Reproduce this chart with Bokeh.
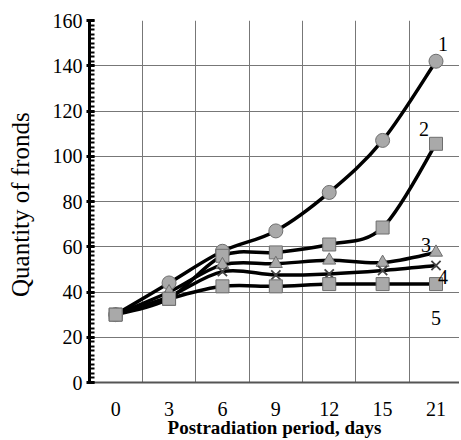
import numpy as np
from bokeh.plotting import figure
from bokeh.models import Range1d, FixedTicker, ColumnDataSource
from bokeh.embed import file_html
from bokeh.resources import INLINE

days = ["0", "3", "6", "9", "12", "15", "21"]
s1 = [30, 44, 58, 67, 84, 107, 142]
s2 = [30, 37, 56, 57.5, 61, 68.5, 105.5]
s3 = [30, 40, 52, 52.5, 54, 53, 57.5]
s4 = [30, 38, 49, 47.5, 48, 49.5, 51.7]
s5 = [30, 37, 42.5, 42.5, 43.5, 43.5, 43.5]
series = [s1, s2, s3, s4, s5]
markers = ["circle", "square", "triangle", "x", "square"]
names = ["1", "2", "3", "4", "5"]
label_off = [(7, -17), (-12, -15), (-10, -7), (7, 11), (0, 34)]

FONT = "Liberation Serif"
xs = np.arange(len(days), dtype=float)

p = figure(frame_width=370, frame_height=362, output_backend="svg", toolbar_location=None,
           x_range=Range1d(-0.49, 6.44), y_range=Range1d(0, 160),
           min_border_left=89, min_border_right=0, min_border_top=20, min_border_bottom=40)
p.outline_line_color = None
p.background_fill_color = "white"

# axes
p.xaxis.ticker = FixedTicker(ticks=list(xs))
p.xaxis.major_label_overrides = {float(i): d for i, d in enumerate(days)}
p.xaxis.major_tick_in = 0
p.xaxis.major_tick_out = 0
p.xaxis.minor_tick_in = 0
p.xaxis.minor_tick_out = 0
p.xaxis.axis_line_color = "#555555"
p.xaxis.axis_line_width = 2
p.xaxis.major_label_standoff = 19
p.xaxis.major_label_text_font = FONT
p.xaxis.major_label_text_font_size = "20px"
p.xaxis.major_label_text_color = "black"
p.xaxis.axis_label = "Postradiation period, days"
p.xaxis.axis_label_text_font = FONT
p.xaxis.axis_label_text_font_style = "bold"
p.xaxis.axis_label_text_font_size = "19px"
p.xaxis.axis_label_standoff = -2
p.xaxis.axis_label_text_color = "black"

p.yaxis.ticker = FixedTicker(ticks=list(range(0, 161, 20)), minor_ticks=list(range(0, 161, 2)))
p.yaxis.axis_line_color = "black"
p.yaxis.axis_line_width = 3
p.yaxis.major_tick_in = 5
p.yaxis.major_tick_out = 3
p.yaxis.major_tick_line_width = 3
p.yaxis.minor_tick_in = 5
p.yaxis.minor_tick_out = 0
p.yaxis.minor_tick_line_width = 2
p.yaxis.major_label_standoff = 4
p.yaxis.major_label_text_font = FONT
p.yaxis.major_label_text_font_size = "20px"
p.yaxis.major_label_text_color = "black"
p.yaxis.axis_label = "Quantity of  fronds"
p.yaxis.axis_label_text_font = FONT
p.yaxis.axis_label_text_font_style = "normal"
p.yaxis.axis_label_text_font_size = "25px"
p.yaxis.axis_label_standoff = 16
p.yaxis.axis_label_text_color = "black"

# grid
p.xgrid.ticker = FixedTicker(ticks=list(xs[:-1] + 0.5))
p.xgrid.grid_line_color = "#777777"
p.xgrid.grid_line_width = 1
p.ygrid.ticker = FixedTicker(ticks=list(range(20, 161, 20)))
p.ygrid.grid_line_color = "#777777"
p.ygrid.grid_line_width = 1


def smooth_segments(x, y, t=1.0 / 6.0):
    x = np.asarray(x, float)
    y = np.asarray(y, float)
    n = len(x)
    x0, y0, x1, y1, cx0, cy0, cx1, cy1 = ([] for _ in range(8))
    for i in range(n - 1):
        xp, yp = (x[i - 1], y[i - 1]) if i > 0 else (x[i], y[i])
        xn, yn = (x[i + 2], y[i + 2]) if i + 2 < n else (x[i + 1], y[i + 1])
        x0.append(x[i]); y0.append(y[i]); x1.append(x[i + 1]); y1.append(y[i + 1])
        cx0.append(x[i] + (x[i + 1] - xp) * t); cy0.append(y[i] + (y[i + 1] - yp) * t)
        cx1.append(x[i + 1] - (xn - x[i]) * t); cy1.append(y[i + 1] - (yn - y[i]) * t)
    return dict(x0=x0, y0=y0, x1=x1, y1=y1, cx0=cx0, cy0=cy0, cx1=cx1, cy1=cy1)


for ser in series:
    p.bezier(source=ColumnDataSource(smooth_segments(xs, ser)), x0="x0", y0="y0",
             x1="x1", y1="y1", cx0="cx0", cy0="cy0", cx1="cx1", cy1="cy1",
             line_color="black", line_width=3.5)

for ser, mk in zip(series, markers):
    if mk == "x":
        p.scatter(xs, ser, marker="x", size=13, line_color="#444444", line_width=1.8)
    else:
        size = 14 if mk == "circle" else 13
        p.scatter(xs, ser, marker=mk, size=size, fill_color="#a9a9a9",
                  line_color="#6e6e6e", line_width=1)

for ser, nm, (dx, dy) in zip(series, names, label_off):
    p.text(x=[xs[-1]], y=[ser[-1]], text=[nm], x_offset=dx, y_offset=dy,
           text_align="center", text_baseline="middle", text_font=FONT,
           text_font_size="20px", text_color="black")

open("out.html", "w").write(file_html(p, INLINE))
